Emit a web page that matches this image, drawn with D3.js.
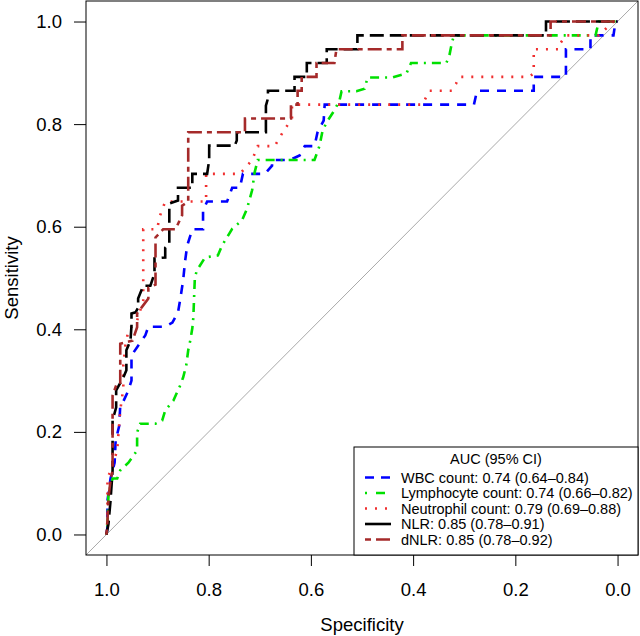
<!DOCTYPE html>
<html>
<head>
<meta charset="utf-8">
<script src="https://cdn.jsdelivr.net/npm/d3@7"></script>
<style>
  html, body { margin: 0; padding: 0; background: #fff; }
  svg { display: block; font-family: "Liberation Sans", Arial, Helvetica, sans-serif; }
</style>
</head>
<body>
<svg id="chart" width="640" height="636"></svg>
<script>
// ---- data (specificity, sensitivity) ----
const xTicks = [1.0, 0.8, 0.6, 0.4, 0.2, 0.0];
const yTicks = [0.0, 0.2, 0.4, 0.6, 0.8, 1.0];
const tickLabels = ["0.0", "0.2", "0.4", "0.6", "0.8", "1.0"];
const seriesNames = ["WBC", "Lymphocyte", "Neutrophil", "NLR", "dNLR"];
const legendTitle = "AUC (95% CI)";
const legendLabels = [
  "WBC count: 0.74 (0.64\u20130.84)",
  "Lymphocyte count: 0.74 (0.66\u20130.82)",
  "Neutrophil count: 0.79 (0.69\u20130.88)",
  "NLR: 0.85 (0.78\u20130.91)",
  "dNLR: 0.85 (0.78\u20130.92)"
];

const wbc = [[1,0],[0.998,0.014],[0.998,0.066],[0.992,0.109],[0.984,0.140],[0.982,0.183],[0.975,0.212],[0.973,0.251],[0.969,0.255],[0.957,0.281],[0.951,0.300],[0.951,0.349],[0.934,0.374],[0.924,0.388],[0.918,0.405],[0.885,0.405],[0.871,0.413],[0.860,0.433],[0.856,0.456],[0.850,0.495],[0.846,0.534],[0.842,0.563],[0.832,0.595],[0.811,0.595],[0.811,0.632],[0.803,0.649],[0.764,0.649],[0.754,0.676],[0.739,0.676],[0.733,0.703],[0.690,0.703],[0.676,0.719],[0.676,0.730],[0.641,0.730],[0.622,0.739],[0.612,0.757],[0.593,0.757],[0.587,0.784],[0.575,0.807],[0.573,0.838],[0.281,0.838],[0.275,0.865],[0.164,0.865],[0.164,0.892],[0.101,0.892],[0.101,0.946],[0.053,0.946],[0.053,0.973],[0.008,0.973],[0.004,1],[0,1]];

const lymphocyte = [[1,0],[0.998,0.014],[0.996,0.080],[0.988,0.109],[0.979,0.109],[0.973,0.125],[0.957,0.140],[0.940,0.164],[0.940,0.199],[0.934,0.216],[0.904,0.216],[0.891,0.222],[0.885,0.242],[0.869,0.261],[0.856,0.290],[0.850,0.306],[0.844,0.329],[0.840,0.359],[0.836,0.378],[0.832,0.402],[0.830,0.423],[0.828,0.476],[0.827,0.501],[0.823,0.515],[0.807,0.540],[0.782,0.544],[0.774,0.563],[0.754,0.596],[0.735,0.612],[0.725,0.635],[0.715,0.671],[0.710,0.706],[0.704,0.730],[0.593,0.730],[0.583,0.758],[0.577,0.788],[0.567,0.807],[0.554,0.827],[0.544,0.846],[0.540,0.864],[0.511,0.864],[0.495,0.869],[0.489,0.891],[0.441,0.891],[0.413,0.899],[0.404,0.919],[0.335,0.919],[0.329,0.934],[0.324,0.959],[0.320,0.973],[0.043,0.973],[0.037,1],[0,1]];

const neutrophil = [[1,0],[0.998,0.027],[0.998,0.109],[0.988,0.135],[0.979,0.164],[0.973,0.242],[0.967,0.285],[0.967,0.329],[0.963,0.368],[0.957,0.398],[0.940,0.417],[0.928,0.456],[0.928,0.595],[0.901,0.595],[0.895,0.622],[0.885,0.649],[0.805,0.649],[0.805,0.703],[0.739,0.703],[0.715,0.730],[0.704,0.757],[0.671,0.757],[0.655,0.784],[0.637,0.811],[0.637,0.838],[0.382,0.838],[0.368,0.865],[0.324,0.865],[0.316,0.879],[0.310,0.892],[0.173,0.892],[0.164,0.899],[0.164,0.946],[0.115,0.946],[0.111,0.959],[0.101,0.973],[0.037,0.973],[0.023,0.986],[0.008,1],[0,1]];

const nlr = [[1,0],[0.996,0.021],[0.992,0.066],[0.988,0.125],[0.988,0.222],[0.981,0.248],[0.981,0.281],[0.967,0.306],[0.961,0.320],[0.961,0.359],[0.953,0.378],[0.951,0.407],[0.951,0.431],[0.943,0.433],[0.938,0.442],[0.938,0.460],[0.928,0.485],[0.914,0.485],[0.906,0.509],[0.906,0.538],[0.885,0.540],[0.885,0.559],[0.877,0.567],[0.877,0.645],[0.860,0.651],[0.860,0.676],[0.832,0.676],[0.832,0.703],[0.803,0.703],[0.799,0.730],[0.799,0.758],[0.749,0.758],[0.745,0.768],[0.745,0.784],[0.688,0.784],[0.688,0.836],[0.684,0.850],[0.684,0.865],[0.632,0.865],[0.632,0.892],[0.608,0.892],[0.608,0.919],[0.569,0.919],[0.569,0.946],[0.509,0.946],[0.509,0.973],[0.140,0.973],[0.140,1],[0,1]];

const dnlr = [[1,0],[0.998,0.027],[0.996,0.072],[0.992,0.105],[0.988,0.125],[0.988,0.271],[0.979,0.296],[0.973,0.296],[0.973,0.372],[0.949,0.378],[0.940,0.404],[0.940,0.431],[0.918,0.460],[0.918,0.481],[0.904,0.487],[0.904,0.579],[0.889,0.595],[0.865,0.595],[0.852,0.622],[0.852,0.641],[0.840,0.649],[0.840,0.784],[0.729,0.784],[0.729,0.811],[0.639,0.811],[0.639,0.838],[0.626,0.838],[0.626,0.865],[0.618,0.865],[0.618,0.892],[0.589,0.892],[0.589,0.919],[0.554,0.919],[0.550,0.946],[0.421,0.946],[0.421,0.973],[0.131,0.973],[0.131,1],[0,1]];

const seriesData = [wbc, lymphocyte, neutrophil, nlr, dnlr];
const colors = ["#0000FF", "#00E000", "#F03030", "#000000", "#A52A2A"];
const dashes = ["9,8", "2,6,9,6", "2,8", "14,6", "5,5,14,5"];
const legendDashes = ["9,7", "2,9,9,6", "2,8", "26", "6,5,14,5"];

// ---- layout ----
const svg = d3.select("#chart");
const L = 86, R = 638, T = 1, B = 555;
const axisFont = 18.5, legendFont = 14.5;

const x = d3.scaleLinear().domain([1.04, -0.04]).range([L, R]);
const y = d3.scaleLinear().domain([-0.04, 1.04]).range([B, T]);

svg.append("defs").append("clipPath").attr("id", "plotclip")
  .append("rect").attr("x", L).attr("y", T).attr("width", R - L).attr("height", B - T);

const plot = svg.append("g").attr("clip-path", "url(#plotclip)");

// identity (chance) line
plot.append("line")
  .attr("x1", x(1.04)).attr("y1", y(-0.04))
  .attr("x2", x(-0.04)).attr("y2", y(1.04))
  .attr("stroke", "#A9A9A9").attr("stroke-width", 1);

const line = d3.line().x(d => x(d[0])).y(d => y(d[1]));

seriesData.forEach((s, i) => {
  plot.append("path")
    .datum(s)
    .attr("d", line)
    .attr("fill", "none")
    .attr("stroke", colors[i])
    .attr("stroke-width", 2.6)
    .attr("stroke-dasharray", dashes[i])
    .attr("stroke-linejoin", "miter")
    .attr("stroke-linecap", "butt");
});

// frame
svg.append("rect").attr("x", L).attr("y", T).attr("width", R - L).attr("height", B - T)
  .attr("fill", "none").attr("stroke", "#000").attr("stroke-width", 1);

// axes
const xAxis = d3.axisBottom(x).tickValues(xTicks).tickSize(11).tickPadding(17)
  .tickFormat(d => d3.format(".1f")(d));
const gx = svg.append("g").attr("transform", `translate(0,${B})`).call(xAxis);
gx.select(".domain").remove();
gx.selectAll("text").attr("font-size", axisFont).attr("font-family", "Liberation Sans, Arial, sans-serif").attr("fill", "#000");
gx.selectAll("line").attr("stroke", "#000");

const yAxis = d3.axisLeft(y).tickValues(yTicks).tickSize(12).tickPadding(12)
  .tickFormat((d, i) => tickLabels[i]);
const gy = svg.append("g").attr("transform", `translate(${L},0)`).call(yAxis);
gy.select(".domain").remove();
gy.selectAll("text").attr("font-size", axisFont).attr("font-family", "Liberation Sans, Arial, sans-serif").attr("fill", "#000");
gy.selectAll("line").attr("stroke", "#000");

// axis titles
svg.append("text").attr("x", (L + R) / 2).attr("y", 631)
  .attr("text-anchor", "middle").attr("font-size", axisFont).text("Specificity");
svg.append("text").attr("transform", `translate(18,${(T + B) / 2}) rotate(-90)`)
  .attr("text-anchor", "middle").attr("font-size", axisFont).text("Sensitivity");

// legend
const lgX0 = 354, lgY0 = 447, lgX1 = R, lgY1 = B;
const lg = svg.append("g");
lg.append("rect").attr("x", lgX0).attr("y", lgY0).attr("width", lgX1 - lgX0).attr("height", lgY1 - lgY0)
  .attr("fill", "#fff").attr("stroke", "#000").attr("stroke-width", 1);
lg.append("text").attr("x", (lgX0 + lgX1) / 2).attr("y", 463.5)
  .attr("text-anchor", "middle").attr("font-size", legendFont).text(legendTitle);
const rowY = d3.scaleLinear().domain([0, 4]).range([482.5, 544.5]);
legendLabels.forEach((lab, i) => {
  const yy = rowY(i);
  lg.append("line").attr("x1", 365).attr("x2", 391).attr("y1", yy - 5).attr("y2", yy - 5)
    .attr("stroke", colors[i]).attr("stroke-width", 2.6).attr("stroke-dasharray", legendDashes[i]);
  lg.append("text").attr("x", 401).attr("y", yy).attr("font-size", legendFont).text(lab);
});
</script>
</body>
</html>
